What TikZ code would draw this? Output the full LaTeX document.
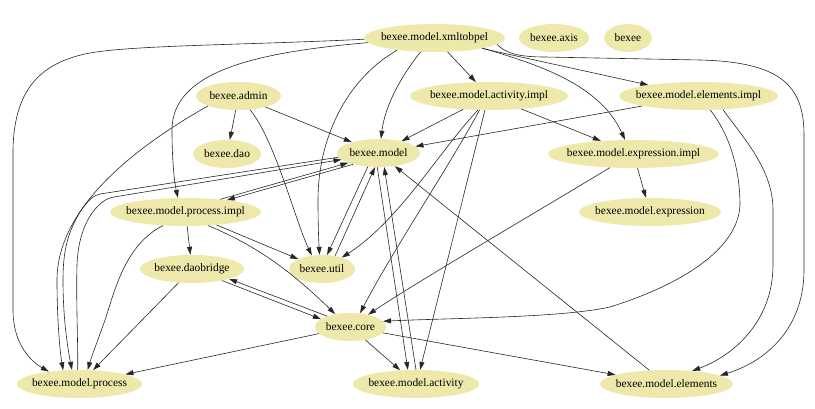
\documentclass[tikz,border=0pt]{standalone}
\usepackage{fontspec}
\setmainfont{Liberation Serif}
\usetikzlibrary{shapes.geometric,arrows.meta}
\definecolor{pg}{RGB}{238,232,170}
\begin{document}
\begin{tikzpicture}[x=1pt,y=-1pt,
  nd/.style={ellipse, fill=pg, draw=none, minimum height=28pt, inner xsep=-8pt, inner ysep=0pt,
    font=\fontsize{11.4}{13}\selectfont},
  e/.style={draw=black!85, line width=0.6pt, -{Triangle[length=8pt,width=5pt]}}]
\path[use as bounding box] (0,0) rectangle (815,409);
% nodes
\node[nd, minimum width=141pt] (xml) at (434.5,38) {bexee.model.xmltobpel};
\node[nd, minimum width=70pt] (axis) at (554,38) {bexee.axis};
\node[nd, minimum width=48pt] (bexee) at (628,38) {bexee};
\node[nd, minimum width=85pt] (admin) at (238.5,96) {bexee.admin};
\node[nd, minimum width=158pt] (aimpl) at (489,96) {bexee.model.activity.impl};
\node[nd, minimum width=159pt] (eimpl) at (698.5,96) {bexee.model.elements.impl};
\node[nd, minimum width=68pt] (dao) at (227,154) {bexee.dao};
\node[nd, minimum width=83pt] (model) at (378.5,153) {bexee.model};
\node[nd, minimum width=171pt] (eximpl) at (633.5,154) {bexee.model.expression.impl};
\node[nd, minimum width=151pt] (pimpl) at (185.5,212) {bexee.model.process.impl};
\node[nd, minimum width=142pt] (expr) at (650,212) {bexee.model.expression};
\node[nd, minimum width=104pt] (daob) at (192,269) {bexee.daobridge};
\node[nd, minimum width=66pt] (util) at (322,269) {bexee.util};
\node[nd, minimum width=71pt] (core) at (350.5,327) {bexee.core};
\node[nd, minimum width=125pt] (proc) at (79.5,384) {bexee.model.process};
\node[nd, minimum width=126pt] (act) at (416,384) {bexee.model.activity};
\node[nd, minimum width=133pt] (elem) at (666.5,384) {bexee.model.elements};
% edges from xmltobpel
\draw[e] (xml.181) .. controls (250,45) and (125,45) .. (85,54) .. controls (45,63) and (14,85) .. (13,150) -- (13,310) .. controls (13,345) and (32,362) .. (proc.158);
\draw[e] (xml.184) .. controls (260,52) and (172,70) .. (172,130) .. controls (172,165) and (175,185) .. (pimpl.118);
\draw[e] (xml.198) .. controls (345,80) and (318,140) .. (318,200) .. controls (318,230) and (319,245) .. (util.100);
\draw[e] (xml.225) .. controls (402,75) and (385,105) .. (model.80);
\draw[e] (xml) -- (aimpl);
\draw[e] (xml) -- (eimpl);
\draw[e] (xml.348) .. controls (540,65) and (600,85) .. (eximpl.121);
\draw[e] (xml.354) .. controls (505,52) and (515,57) .. (545,57) -- (700,60) .. controls (780,62) and (804,85) .. (804,135) -- (804,270) .. controls (804,325) and (770,360) .. (elem.9);
% admin
\draw[e] (admin) -- (dao);
\draw[e] (admin) -- (model);
\draw[e] (admin.310) .. controls (275,140) and (295,220) .. (util.127);
\draw[e] (admin.198) .. controls (130,150) and (57,210) .. (57,280) .. controls (57,320) and (60,352) .. (proc.140);
% model <-> process.impl, process
\draw[e] (model.204) -- (pimpl.16);
\draw[e] (pimpl.20) -- (model.198);
\draw[e] (model.186) -- (100,194) .. controls (94,195) and (88,200) .. (80,212) .. controls (68,232) and (63,250) .. (63,280) .. controls (63,320) and (68,350) .. (proc.118);
\draw[e] (proc.97) .. controls (78,340) and (76,300) .. (77,265) .. controls (78,238) and (86,218) .. (98,206) .. controls (104,200) and (108,198) .. (114,197) -- (model.190);
% model <-> util, activity
\draw[e] (model.232) -- (util.70);
\draw[e] (util.45) -- (model.256);
\draw[e] (model.265) -- (act.120);
\draw[e] (act.90) -- (model.292);
% activity.impl
\draw[e] (aimpl) -- (model);
\draw[e] (aimpl) -- (eximpl);
\draw[e] (aimpl.232) .. controls (440,150) and (400,220) .. (util.30);
\draw[e] (aimpl.236) .. controls (450,165) and (390,255) .. (core.55);
\draw[e] (aimpl.254) -- (act.74);
% elements.impl
\draw[e] (eimpl) -- (model);
\draw[e] (eimpl.310) .. controls (730,135) and (740,170) .. (740,205) .. controls (738,250) and (680,285) .. (610,307) .. controls (560,318) and (450,318) .. (core.10);
\draw[e] (eimpl.331) .. controls (745,140) and (773,170) .. (773,210) -- (773,265) .. controls (773,320) and (735,355) .. (elem.27);
% expression.impl
\draw[e] (eximpl) -- (expr);
\draw[e] (eximpl.210) .. controls (540,210) and (420,280) .. (core.35);
% process.impl
\draw[e] (pimpl) -- (daob);
\draw[e] (pimpl) -- (util);
\draw[e] (pimpl.329) .. controls (255,245) and (290,270) .. (core.140);
\draw[e] (pimpl.211) .. controls (125,245) and (115,290) .. (105,320) .. controls (98,340) and (92,355) .. (proc.60);
% daobridge
\draw[e] (daob) -- (proc);
\draw[e] (daob.339) -- (core.165);
\draw[e] (core.155) -- (daob.345);
% core
\draw[e] (core) -- (proc);
\draw[e] (core) -- (act);
\draw[e] (core) -- (elem);
% elements
\draw[e] (elem) -- (model);
\end{tikzpicture}
\end{document}
